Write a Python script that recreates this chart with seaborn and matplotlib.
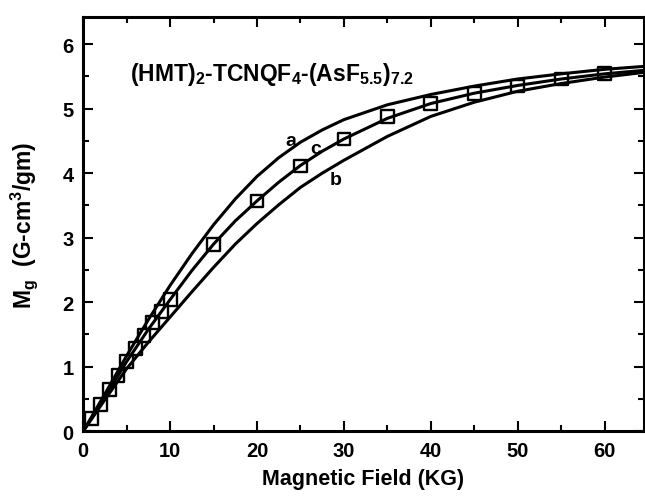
import matplotlib
matplotlib.use("Agg")
import matplotlib.pyplot as plt
import seaborn as sns
import pandas as pd
from matplotlib.ticker import MultipleLocator

# Curve grid (KG)
curve_x = [0, 2.5, 5, 7.5, 10, 12.5, 15, 17.5, 20, 22.5, 25, 27.5, 30, 35, 40, 45, 50, 55, 60, 65]
curve_a = [0, 0.58, 1.17, 1.73, 2.26, 2.75, 3.20, 3.60, 3.95, 4.24, 4.48, 4.67, 4.83, 5.06, 5.22, 5.35, 5.46, 5.54, 5.61, 5.66]
curve_c = [0, 0.53, 1.08, 1.58, 2.04, 2.49, 2.90, 3.26, 3.57, 3.86, 4.12, 4.34, 4.53, 4.85, 5.08, 5.24, 5.36, 5.46, 5.54, 5.60]
curve_b = [0, 0.49, 0.97, 1.38, 1.77, 2.16, 2.54, 2.90, 3.22, 3.51, 3.78, 4.00, 4.20, 4.57, 4.88, 5.10, 5.27, 5.39, 5.49, 5.57]

# Measured points
data_x = [1, 2, 3, 4, 5, 6, 7, 8, 9, 10, 15, 20, 25, 30, 35, 40, 45, 50, 55, 60]
data_y = [0.20, 0.42, 0.65, 0.87, 1.08, 1.28, 1.48, 1.68, 1.86, 2.04, 2.89, 3.57, 4.11, 4.53, 4.88, 5.08, 5.23, 5.35, 5.46, 5.55]

curve_labels = ["a", "b", "c"]
label_pos_x = [23.9, 29.0, 26.8]
label_pos_y = [4.50, 3.90, 4.38]

title_text = r"(HMT)$_\mathbf{2}$-TCNQF$_\mathbf{4}$-(AsF$_\mathbf{5.5}$)$_\mathbf{7.2}$"
xlabel = "Magnetic Field (KG)"
ylabel = r"M$_\mathbf{g}$  (G-cm$^\mathbf{3}$/gm)"

sns.set_style("ticks")
plt.rcParams["font.family"] = ["Liberation Sans", "DejaVu Sans"]
plt.rcParams["font.weight"] = "bold"
plt.rcParams["mathtext.fontset"] = "custom"
plt.rcParams["mathtext.bf"] = "Liberation Sans:bold"
plt.rcParams["mathtext.rm"] = "Liberation Sans:bold"
plt.rcParams["mathtext.default"] = "bf"
for key in ["text.color", "axes.labelcolor", "xtick.color", "ytick.color", "axes.edgecolor"]:
    plt.rcParams[key] = "black"

fig = plt.figure(figsize=(6.45, 5.02), dpi=100)
ax = fig.add_axes([0.129, 0.139, 0.869, 0.825])

df_curves = pd.DataFrame({
    "x": curve_x * 3,
    "y": curve_a + curve_b + curve_c,
    "curve": ["a"] * len(curve_x) + ["b"] * len(curve_x) + ["c"] * len(curve_x),
})
sns.lineplot(data=df_curves, x="x", y="y", units="curve", estimator=None,
             color="black", lw=2.2, ax=ax, legend=False, sort=True)

df_pts = pd.DataFrame({"x": data_x, "y": data_y})
sns.scatterplot(data=df_pts, x="x", y="y", marker="s", s=85,
                facecolors="none", edgecolors="black", linewidths=1.7, ax=ax, zorder=5)

for lab, lx, ly in zip(curve_labels, label_pos_x, label_pos_y):
    ax.text(lx, ly, lab, fontsize=14, fontweight="bold", ha="center", va="center")

ax.text(5.4, 5.55, title_text, fontsize=16.5, fontweight="bold", ha="left", va="center")

ax.set_xlim(0, 64.5)
ax.set_ylim(0, 6.42)
ax.xaxis.set_major_locator(MultipleLocator(10))
ax.xaxis.set_minor_locator(MultipleLocator(5))
ax.yaxis.set_major_locator(MultipleLocator(1))
ax.yaxis.set_minor_locator(MultipleLocator(0.5))
ax.tick_params(which="both", direction="in", top=True, right=True, width=1.5,
               labelsize=14.5, pad=7)
ax.tick_params(which="major", length=7)
ax.tick_params(which="minor", length=4)
for lab in ax.get_xticklabels() + ax.get_yticklabels():
    lab.set_fontweight("bold")
for sp in ax.spines.values():
    sp.set_linewidth(2.2)

ax.set_xlabel(xlabel, fontsize=15.5, fontweight="bold", labelpad=6)
ax.set_ylabel(ylabel, fontsize=16.5, fontweight="bold", labelpad=16)

fig.savefig("out.png", dpi=100)
